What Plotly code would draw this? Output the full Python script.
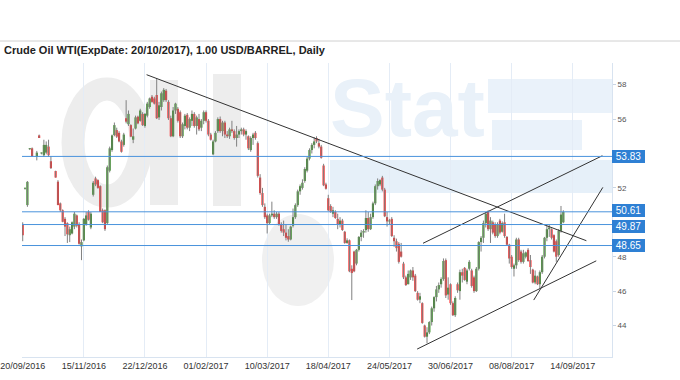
import plotly.graph_objects as go

title_text = "Crude Oil WTI(ExpDate: 20/10/2017), 1.00 USD/BARREL, Daily"
tick_labels = ["20/09/2016", "15/11/2016", "22/12/2016", "01/02/2017", "10/03/2017",
               "18/04/2017", "24/05/2017", "30/06/2017", "08/08/2017", "14/09/2017"]
tick_bars = [0, 26, 52, 78, 104, 130, 156, 182, 208, 234]
price_ticks = [44, 46, 48, 52, 56, 58]

opens = [49.9, 51.95, 51.0, 54.25, 54.3, None, 53.8, 55.05, 54.0, 53.9,
 54.05, 54.4, 53.55, None, 52.98, 52.36, 51.1, 50.7, 50.2, 49.95,
 49.25, 49.35, 49.75, 50.4, 49.9, 48.6, 48.95, 49.85, 50.6, 49.7,
 51.6, 52.55, 52.45, 52.1, 50.7, 50.7, 49.95, 53.0, 54.2, 55.07,
 55.36, 55.2, 54.7, 54.5, 56.05, 55.7, 55.65, 54.8, 55.45, 56.14,
 55.9, 56.3, 55.6, 56.2, 56.7, 57.3, 57.2, 57.4, 56.1, 56.7,
 57.1, 57.65, 57.0, 56.05, 55.0, 56.5, 56.6, 56.4, 55.0, 55.6,
 56.25, 55.5, 55.9, 56.3, 55.6, 56.0, 55.5, 55.9, 56.4, 55.9,
 55.1, 53.95, 54.7, 55.3, 56.0, 55.3, 55.8, 55.1, 55.0, 55.4,
 55.3, 54.9, 55.1, 55.3, 55.4, 55.1, 55.0, 54.2, 54.9, 55.2,
 54.6, 52.6, 51.7, 50.9, 50.4, 49.95, 50.4, 50.5, 50.3, 50.5,
 49.9, 49.6, 49.4, 49.2, 49.0, 49.8, 50.3, 51.0, 51.8, 52.0,
 52.4, 53.0, 53.7, 54.2, 54.5, 54.9, 54.6, 54.4, 53.3, 52.2,
 51.4, 50.95, 50.5, 50.6, 50.2, 49.9, 50.1, 49.45, 48.8, 48.95,
 47.3, 48.3, 47.6, 48.4, 49.15, 49.4, 49.55, 50.25, 49.6, 50.3,
 51.1, 52.1, 52.2, 52.6, 51.9, 50.3, 50.05, 50.2, 49.1, 48.9,
 48.75, 48.3, 47.6, 46.8, 46.4, 46.8, 47.2, 46.9, 45.9, 45.5,
 45.3, 44.0, 43.35, 43.6, 44.2, 45.0, 45.65, 46.1, 46.4, 46.7,
 47.8, 45.8, 46.4, 45.3, 44.6, 46.4, 46.0, 47.1, 47.35, 46.55,
 47.3, 47.2, 46.8, 46.0, 47.3, 48.85, 49.1, 49.95, 50.6, 49.6,
 50.0, 49.9, 49.2, 50.1, 49.45, 50.0, 49.15, 48.7, 48.0, 47.3,
 47.5, 49.0, 48.3, 47.7, 48.0, 48.4, 47.8, 47.25, 46.5, 46.85,
 46.4, 47.1, 48.0, 49.1, 49.6, 49.6, 49.25, 48.9, 48.1, 49.5,
 50.0]

highs = [50.0, 52.0, 52.4, 54.3, 54.35, None, 54.15, 55.1, 54.05, 54.8,
 54.7, 54.8, 53.85, None, 53.0, 52.45, 51.15, 50.75, 50.3, 50.0,
 49.75, 50.05, 50.6, 50.45, 50.0, 49.0, 50.25, 50.6, 50.7, 50.6,
 52.4, 52.65, 52.5, 52.15, 50.8, 50.75, 53.3, 54.4, 55.1, 55.8,
 55.5, 55.3, 54.8, 55.2, 57.1, 56.5, 55.7, 55.45, 56.2, 56.2,
 56.6, 56.4, 56.35, 57.0, 57.25, 57.4, 57.3, 58.37, 57.0, 57.6,
 57.8, 57.75, 57.1, 56.2, 56.7, 56.95, 56.7, 56.5, 55.8, 56.3,
 56.35, 56.1, 56.5, 56.4, 56.2, 56.3, 56.0, 56.5, 56.5, 56.0,
 55.2, 54.8, 55.3, 56.1, 56.15, 55.9, 55.9, 55.3, 55.5, 55.9,
 55.4, 55.6, 55.4, 55.5, 55.5, 55.4, 55.05, 55.0, 55.2, 55.3,
 54.7, 52.8, 52.0, 51.1, 50.5, 50.5, 51.2, 50.7, 50.6, 50.6,
 50.0, 50.1, 49.9, 49.6, 49.8, 50.8, 51.1, 51.9, 52.2, 52.5,
 53.2, 53.8, 54.3, 54.6, 54.95, 55.0, 54.85, 54.5, 53.4, 52.3,
 51.6, 51.05, 50.9, 50.7, 50.5, 50.3, 50.2, 49.5, 49.07, 49.0,
 47.5, 48.35, 48.45, 49.2, 49.55, 49.6, 50.7, 50.6, 50.5, 51.2,
 52.2, 52.55, 52.5, 52.7, 52.0, 50.6, 50.2, 50.3, 49.25, 49.05,
 48.85, 48.8, 47.7, 46.9, 47.2, 47.25, 47.4, 47.0, 46.0, 45.9,
 45.35, 44.05, 43.9, 44.25, 45.1, 45.7, 46.3, 46.5, 46.8, 47.9,
 47.9, 46.8, 46.45, 45.4, 45.7, 46.5, 47.25, 47.3, 47.4, 47.3,
 47.8, 47.3, 46.9, 47.4, 48.9, 49.2, 50.1, 50.6, 50.7, 50.3,
 50.1, 50.0, 50.0, 50.2, 50.05, 50.5, 49.2, 48.75, 48.1, 47.6,
 49.1, 49.1, 48.4, 48.4, 48.3, 48.5, 48.1, 47.3, 47.2, 46.9,
 47.2, 48.1, 49.15, 49.8, 49.85, 49.65, 49.3, 49.0, 49.6, 50.95,
 50.7]

lows = [48.9, 51.9, 50.9, 54.2, 53.8, None, 53.6, 54.9, 53.95, 53.8,
 53.95, 53.8, 53.1, None, 52.6, 51.0, 50.6, 50.0, 49.2, 48.8,
 48.85, 49.3, 49.6, 49.7, 48.7, 47.8, 48.9, 49.8, 50.1, 49.6,
 51.5, 52.1, 51.95, 50.6, 49.95, 49.5, 49.9, 52.9, 54.1, 55.0,
 54.9, 54.65, 54.05, 54.4, 55.75, 55.6, 54.95, 54.6, 55.4, 55.7,
 55.85, 55.6, 55.5, 56.1, 56.6, 56.95, 56.85, 56.0, 55.95, 56.5,
 57.0, 57.0, 55.95, 54.95, 54.95, 56.3, 55.8, 54.9, 54.9, 55.4,
 55.4, 55.3, 55.6, 55.5, 55.1, 55.3, 55.3, 55.7, 55.8, 55.0,
 54.75, 53.9, 54.65, 55.2, 55.2, 55.0, 54.9, 54.9, 54.85, 55.2,
 54.8, 54.4, 54.9, 55.1, 55.0, 54.8, 54.2, 54.1, 54.5, 54.8,
 52.6, 51.6, 50.9, 50.2, 49.35, 49.9, 50.3, 50.2, 50.2, 49.8,
 49.4, 49.2, 48.95, 48.87, 48.95, 49.7, 50.2, 50.9, 51.6, 51.9,
 52.3, 52.9, 53.6, 54.0, 54.3, 54.6, 54.3, 53.7, 52.1, 51.9,
 50.65, 50.55, 50.3, 50.2, 49.6, 49.7, 49.5, 48.75, 48.75, 47.1,
 45.48, 47.1, 47.5, 48.3, 48.9, 49.1, 49.4, 49.45, 49.55, 50.2,
 51.0, 51.9, 52.1, 51.8, 50.3, 49.75, 49.9, 49.15, 48.58, 48.3,
 47.6, 47.95, 46.7, 46.3, 46.4, 46.65, 46.6, 45.95, 45.45, 45.3,
 44.1, 43.3, 42.96, 43.5, 44.0, 44.8, 45.4, 45.9, 46.2, 46.6,
 45.6, 45.5, 45.2, 44.55, 44.5, 45.9, 45.5, 46.5, 46.6, 46.4,
 47.2, 46.2, 45.9, 45.95, 47.2, 48.3, 48.8, 49.7, 49.5, 48.8,
 49.3, 49.1, 49.1, 49.3, 49.4, 49.1, 48.65, 47.6, 47.3, 46.85,
 47.3, 47.7, 47.6, 47.6, 47.9, 47.7, 47.0, 46.45, 46.4, 46.35,
 46.15, 47.0, 47.9, 48.9, 49.15, 49.0, 48.25, 47.7, 48.0, 49.4,
 49.95]

closes = [49.25, 51.97, 52.35, 54.25, 53.85, None, 54.05, 54.9, 54.0, 54.5,
 54.5, 53.9, 53.15, None, 52.6, 51.0, 50.7, 50.03, 49.75, 49.3,
 49.6, 50.0, 50.5, 49.8, 48.75, 48.85, 50.2, 50.4, 50.15, 50.5,
 52.3, 52.2, 52.0, 50.6, 50.0, 49.6, 53.2, 54.3, 55.05, 55.65,
 54.98, 54.7, 54.1, 55.1, 55.85, 56.3, 54.98, 55.0, 56.1, 55.75,
 56.5, 55.65, 56.3, 56.9, 57.2, 57.0, 56.9, 56.05, 56.8, 57.5,
 57.7, 57.1, 56.05, 55.0, 56.5, 56.9, 55.9, 55.0, 55.7, 56.2,
 55.5, 56.0, 56.3, 55.6, 56.1, 55.4, 55.9, 56.4, 55.9, 55.1,
 54.8, 54.7, 55.2, 56.0, 55.3, 55.8, 55.1, 55.0, 55.4, 55.3,
 54.9, 55.1, 55.3, 55.4, 55.1, 55.3, 54.3, 54.9, 55.1, 54.9,
 52.7, 51.7, 51.0, 50.3, 49.95, 50.4, 50.5, 50.3, 50.5, 49.9,
 49.5, 49.4, 49.1, 49.0, 49.75, 50.3, 51.0, 51.8, 52.1, 52.3,
 53.1, 53.7, 54.2, 54.5, 54.7, 54.7, 54.4, 53.75, 52.15, 51.95,
 50.7, 50.6, 50.7, 50.25, 49.9, 50.1, 49.55, 48.8, 48.95, 47.15,
 47.05, 47.15, 48.4, 49.15, 49.4, 49.5, 50.25, 49.6, 50.3, 51.1,
 52.1, 52.4, 52.45, 51.9, 50.35, 50.05, 50.1, 49.2, 48.9, 48.5,
 47.7, 48.0, 46.8, 46.35, 47.0, 47.2, 46.8, 46.0, 45.5, 45.7,
 44.15, 43.35, 43.6, 44.2, 45.0, 45.65, 46.1, 46.35, 46.7, 47.75,
 45.75, 46.2, 45.3, 44.6, 45.6, 46.05, 47.1, 46.9, 46.65, 47.2,
 47.7, 46.3, 46.0, 47.3, 48.85, 49.1, 49.95, 50.5, 49.6, 50.1,
 49.4, 49.2, 49.9, 49.4, 49.95, 49.2, 48.7, 47.9, 47.4, 47.5,
 49.0, 47.8, 47.7, 48.2, 48.25, 47.75, 47.4, 46.5, 46.9, 46.4,
 47.1, 48.0, 49.1, 49.6, 49.7, 49.1, 48.3, 48.0, 49.5, 50.45,
 50.6]

levels = [53.83, 50.61, 49.87, 48.65]
level_shift = [0, 1.5, -1.5, 0]

# trend lines (bar index, price)
trend_x0 = [52.7, 170.3, 167.8, 217.4]
trend_y0 = [58.58, 48.78, 42.63, 45.48]
trend_x1 = [239.8, 246.6, 244.0, 246.8]
trend_y1 = [48.93, 53.87, 47.76, 52.03]

# ---------------- figure ----------------
W, H = 680, 380
ML, MR, MT, MB = 22, 68, 63, 23
PW, PH = W - ML - MR, H - MT - MB


def px(x):
    # page x pixel -> paper fraction
    return (x - ML) / PW


def py(y):
    # page y pixel -> paper fraction
    return (H - MB - y) / PH


fig = go.Figure()

# wicks
wx, wy = [], []
for i, (h, l) in enumerate(zip(highs, lows)):
    if h is None:
        continue
    wx += [i, i, None]
    wy += [l, h, None]
fig.add_trace(go.Scatter(x=wx, y=wy, mode="lines", line=dict(color="#808080", width=1),
                         hoverinfo="skip", showlegend=False))

# bodies
for up, col in [(True, "#2f8a1c"), (False, "#ff2424")]:
    bx, bb, bh = [], [], []
    for i, (o, c) in enumerate(zip(opens, closes)):
        if o is None:
            continue
        if (c >= o) != up:
            continue
        bx.append(i)
        bb.append(min(o, c))
        bh.append(max(abs(c - o), 0.06))
    fig.add_trace(go.Bar(x=bx, y=bh, base=bb, width=0.9, marker=dict(color=col, line=dict(width=0)),
                         hoverinfo="skip", showlegend=False))

# trend lines
for x0, y0, x1, y1 in zip(trend_x0, trend_y0, trend_x1, trend_y1):
    fig.add_trace(go.Scatter(x=[x0, x1], y=[y0, y1], mode="lines",
                             line=dict(color="#333333", width=1), hoverinfo="skip", showlegend=False))

shapes = []
# watermark (decorative)
gray = "#ededed"
lblue = "#eaf2fa"
shapes.append(dict(type="circle", xref="paper", yref="paper", x0=px(73), x1=px(141), y0=py(196), y1=py(89),
                   line=dict(color=gray, width=23), layer="below"))
shapes.append(dict(type="rect", xref="paper", yref="paper", x0=px(150), x1=px(178), y0=py(205), y1=py(80),
                   fillcolor=gray, line=dict(width=0), layer="below"))
shapes.append(dict(type="rect", xref="paper", yref="paper", x0=px(213), x1=px(241), y0=py(206), y1=py(74),
                   fillcolor=gray, line=dict(width=0), layer="below"))
shapes.append(dict(type="circle", xref="paper", yref="paper", x0=px(262), x1=px(334), y0=py(306), y1=py(214),
                   fillcolor="#f0f0f0", line=dict(width=0), layer="below"))
shapes.append(dict(type="rect", xref="paper", yref="paper", x0=px(488), x1=px(612), y0=py(113), y1=py(79),
                   fillcolor=lblue, line=dict(width=0), layer="below"))
shapes.append(dict(type="rect", xref="paper", yref="paper", x0=px(492), x1=px(582), y0=py(150), y1=py(120),
                   fillcolor=lblue, line=dict(width=0), layer="below"))
shapes.append(dict(type="rect", xref="paper", yref="paper", x0=px(330), x1=px(612), y0=py(193), y1=py(160),
                   fillcolor="#e6f0f9", line=dict(width=0), layer="below"))
# top rule
shapes.append(dict(type="line", xref="paper", yref="paper", x0=px(0), x1=px(680), y0=py(41), y1=py(41),
                   line=dict(color="#d0d0d0", width=1)))
# level lines
for v in levels:
    shapes.append(dict(type="line", xref="paper", yref="y", x0=0, x1=1, y0=v, y1=v,
                       line=dict(color="#4a93dc", width=1)))

annotations = [
    dict(text="Stat", xref="paper", yref="paper", x=px(328), y=py(108), xanchor="left", yanchor="middle",
         showarrow=False, font=dict(family="Liberation Sans", size=82, color="#e9f1f9", weight="bold")),
    dict(text="<b>" + title_text + "</b>", xref="paper", yref="paper", x=px(2), y=py(50),
         xanchor="left", yanchor="middle", showarrow=False,
         font=dict(family="Liberation Sans", size=11, color="#222222")),
]
for v, s in zip(levels, level_shift):
    annotations.append(dict(text=f"&nbsp;{v:.2f}&nbsp;", xref="paper", yref="y", x=1, y=v, xanchor="left",
                            yanchor="middle", yshift=s, showarrow=False, bgcolor="#2e80d4",
                            borderpad=1, borderwidth=0,
                            font=dict(family="Liberation Sans", size=10, color="white")))

fig.update_layout(
    width=W, height=H, margin=dict(l=ML, r=MR, t=MT, b=MB, autoexpand=False),
    paper_bgcolor="white", plot_bgcolor="white", barmode="overlay",
    showlegend=False, shapes=shapes, annotations=annotations, hovermode=False,
    xaxis=dict(range=[-0.3, 250.7], tickvals=tick_bars, ticktext=tick_labels, showgrid=True,
               gridcolor="#e4ecf6", gridwidth=1, zeroline=False, showline=True, linecolor="#d8e3f0",
               ticks="", automargin=False, ticklabeloverflow="allow",
               tickfont=dict(family="Liberation Sans", size=9, color="#333333"), fixedrange=True),
    yaxis=dict(range=[42.17, 59.26], side="right", tickvals=price_ticks, showgrid=False, zeroline=False,
               showline=True, linecolor="#d8e3f0", ticks="outside", ticklen=3, tickcolor="#c9d5e3",
               automargin=False,
               tickfont=dict(family="Liberation Sans", size=8, color="#555555"), fixedrange=True),
)

fig.write_html("out.html", config={"displayModeBar": False, "staticPlot": True},
               post_script="document.body.style.margin='0px';")
